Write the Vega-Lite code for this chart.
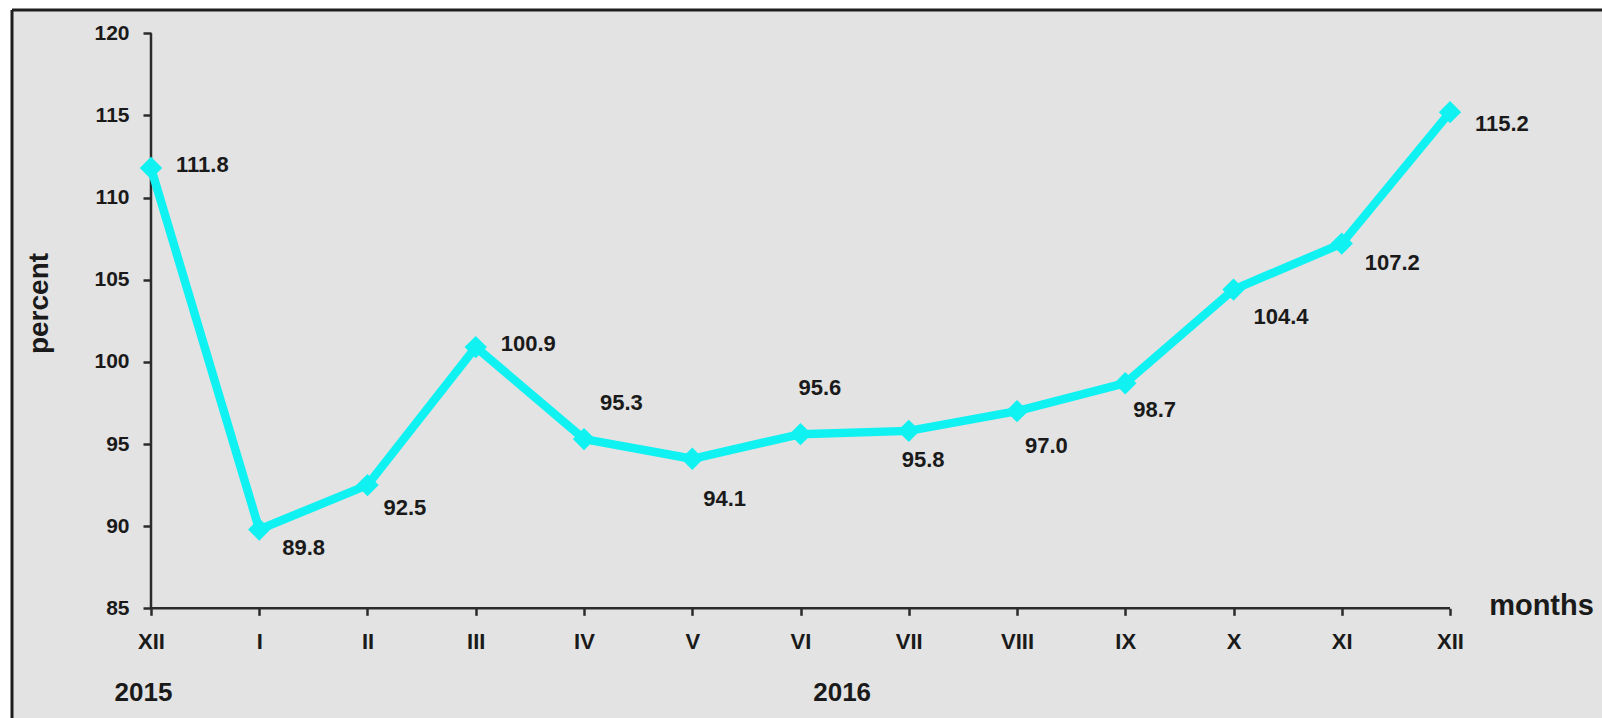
{
  "$schema": "https://vega.github.io/schema/vega-lite/v6.json",
  "autosize": {"type": "none"},
  "width": 1590,
  "height": 708,
  "padding": {"left": 12, "top": 10, "right": 0, "bottom": 0},
  "background": "#ffffff",
  "view": {"fill": "#e3e3e3", "stroke": null},
  "config": {
    "font": "Liberation Sans",
    "axis": {"grid": false, "labelFont": "Liberation Sans", "titleFont": "Liberation Sans"}
  },
  "data": {
    "values": [
      {"idx": 0, "month": "XII", "year": 2015, "value": 111.8},
      {"idx": 1, "month": "I", "year": 2016, "value": 89.8},
      {"idx": 2, "month": "II", "year": 2016, "value": 92.5},
      {"idx": 3, "month": "III", "year": 2016, "value": 100.9},
      {"idx": 4, "month": "IV", "year": 2016, "value": 95.3},
      {"idx": 5, "month": "V", "year": 2016, "value": 94.1},
      {"idx": 6, "month": "VI", "year": 2016, "value": 95.6},
      {"idx": 7, "month": "VII", "year": 2016, "value": 95.8},
      {"idx": 8, "month": "VIII", "year": 2016, "value": 97.0},
      {"idx": 9, "month": "IX", "year": 2016, "value": 98.7},
      {"idx": 10, "month": "X", "year": 2016, "value": 104.4},
      {"idx": 11, "month": "XI", "year": 2016, "value": 107.2},
      {"idx": 12, "month": "XII", "year": 2016, "value": 115.2}
    ]
  },
  "resolve": {"axis": {"x": "independent", "y": "independent"}},
  "layer": [
    {
      "data": {"values": [{}]},
      "mark": {"type": "rule", "color": "#1e1e1e", "strokeWidth": 3},
      "encoding": {
        "x": {"datum": -1.284, "type": "quantitative", "axis": null,
              "scale": {"domain": [-1.284, 13.404], "nice": false, "zero": false}}
      }
    },
    {
      "data": {"values": [{}]},
      "mark": {"type": "rule", "color": "#1e1e1e", "strokeWidth": 3},
      "encoding": {
        "y": {"datum": 121.418, "type": "quantitative", "axis": null,
              "scale": {"domain": [78.323, 121.418], "nice": false, "zero": false}}
      }
    },
    {
      "data": {"values": [{}]},
      "mark": {"type": "rule", "color": "#2b2b2b", "strokeWidth": 2.5},
      "encoding": {
        "x": {"datum": 0, "type": "quantitative", "axis": null},
        "y": {"datum": 85, "type": "quantitative", "axis": null},
        "y2": {"datum": 120}
      }
    },
    {
      "data": {"values": [{}]},
      "mark": {"type": "rule", "color": "#2b2b2b", "strokeWidth": 2.5},
      "encoding": {
        "y": {"datum": 85, "type": "quantitative", "axis": null},
        "x": {"datum": 0, "type": "quantitative",
              "axis": {"orient": "bottom", "offset": -109.7, "values": [-0.074, 6.38],
                       "labelExpr": "datum.value < 1 ? '2015' : '2016'",
                       "ticks": false, "tickSize": 0, "domain": false, "title": null,
                       "labelFontSize": 26, "labelFontWeight": "bold", "labelColor": "#1a1a1a",
                       "labelPadding": 71, "labelFlush": false, "labelBound": false, "labelOverlap": false}},
        "x2": {"datum": 12}
      }
    },
    {
      "mark": {"type": "line", "color": "#10f2f2", "strokeWidth": 8.5, "strokeJoin": "miter"},
      "encoding": {
        "x": {"field": "idx", "type": "quantitative",
              "axis": {"orient": "bottom", "offset": -109.7, "values": [0,1,2,3,4,5,6,7,8,9,10,11,12],
                       "labelExpr": "['XII','I','II','III','IV','V','VI','VII','VIII','IX','X','XI','XII'][datum.value]",
                       "domain": false, "ticks": true, "tickSize": 7, "tickWidth": 2.5, "tickColor": "#2b2b2b",
                       "labelFontSize": 22, "labelFontWeight": "bold", "labelColor": "#1a1a1a",
                       "labelPadding": 16, "labelFlush": false, "labelBound": false, "labelOverlap": false,
                       "title": "months", "titleFontSize": 29, "titleFontWeight": "bold", "titleColor": "#1a1a1a",
                       "titleX": 1529, "titleY": 6, "titleAlign": "center", "titleBaseline": "alphabetic"}},
        "y": {"field": "value", "type": "quantitative",
              "axis": {"orient": "left", "offset": -139, "values": [85,90,95,100,105,110,115,120],
                       "domain": false, "ticks": true, "tickSize": 8, "tickWidth": 2.5, "tickColor": "#2b2b2b",
                       "labelFontSize": 21, "labelFontWeight": "bold", "labelColor": "#1a1a1a",
                       "labelPadding": 14, "labelFlush": false, "labelBound": false, "labelOverlap": false,
                       "title": "percent", "titleFontSize": 28, "titleFontWeight": "bold", "titleColor": "#1a1a1a",
                       "titleAngle": -90, "titleX": -104, "titleY": 293, "titleAlign": "center", "titleBaseline": "alphabetic"}}
      }
    },
    {
      "mark": {"type": "point", "shape": "diamond", "filled": true, "size": 500, "color": "#10f2f2", "opacity": 1},
      "encoding": {
        "x": {"field": "idx", "type": "quantitative", "axis": null},
        "y": {"field": "value", "type": "quantitative", "axis": null}
      }
    },
    {
      "transform": [{"filter": {"field": "idx", "oneOf": [0, 3]}}],
      "mark": {"type": "text", "align": "left", "baseline": "middle", "dx": 25, "dy": -3, "fontSize": 22, "fontWeight": "bold", "color": "#1a1a1a"},
      "encoding": {"x": {"field": "idx", "type": "quantitative", "axis": null}, "y": {"field": "value", "type": "quantitative", "axis": null}, "text": {"field": "value", "type": "quantitative", "format": ".1f"}}
    },
    {
      "transform": [{"filter": {"field": "idx", "oneOf": [12]}}],
      "mark": {"type": "text", "align": "left", "baseline": "middle", "dx": 25, "dy": 12, "fontSize": 22, "fontWeight": "bold", "color": "#1a1a1a"},
      "encoding": {"x": {"field": "idx", "type": "quantitative", "axis": null}, "y": {"field": "value", "type": "quantitative", "axis": null}, "text": {"field": "value", "type": "quantitative", "format": ".1f"}}
    },
    {
      "transform": [{"filter": {"field": "idx", "oneOf": [1, 11]}}],
      "mark": {"type": "text", "align": "left", "baseline": "middle", "dx": 23, "dy": 19, "fontSize": 22, "fontWeight": "bold", "color": "#1a1a1a"},
      "encoding": {"x": {"field": "idx", "type": "quantitative", "axis": null}, "y": {"field": "value", "type": "quantitative", "axis": null}, "text": {"field": "value", "type": "quantitative", "format": ".1f"}}
    },
    {
      "transform": [{"filter": {"field": "idx", "oneOf": [2]}}],
      "mark": {"type": "text", "align": "left", "baseline": "middle", "dx": 16, "dy": 23, "fontSize": 22, "fontWeight": "bold", "color": "#1a1a1a"},
      "encoding": {"x": {"field": "idx", "type": "quantitative", "axis": null}, "y": {"field": "value", "type": "quantitative", "axis": null}, "text": {"field": "value", "type": "quantitative", "format": ".1f"}}
    },
    {
      "transform": [{"filter": {"field": "idx", "oneOf": [10]}}],
      "mark": {"type": "text", "align": "left", "baseline": "middle", "dx": 20, "dy": 27, "fontSize": 22, "fontWeight": "bold", "color": "#1a1a1a"},
      "encoding": {"x": {"field": "idx", "type": "quantitative", "axis": null}, "y": {"field": "value", "type": "quantitative", "axis": null}, "text": {"field": "value", "type": "quantitative", "format": ".1f"}}
    },
    {
      "transform": [{"filter": {"field": "idx", "oneOf": [9]}}],
      "mark": {"type": "text", "align": "left", "baseline": "middle", "dx": 8, "dy": 27, "fontSize": 22, "fontWeight": "bold", "color": "#1a1a1a"},
      "encoding": {"x": {"field": "idx", "type": "quantitative", "axis": null}, "y": {"field": "value", "type": "quantitative", "axis": null}, "text": {"field": "value", "type": "quantitative", "format": ".1f"}}
    },
    {
      "transform": [{"filter": {"field": "idx", "oneOf": [8]}}],
      "mark": {"type": "text", "align": "left", "baseline": "middle", "dx": 8, "dy": 35, "fontSize": 22, "fontWeight": "bold", "color": "#1a1a1a"},
      "encoding": {"x": {"field": "idx", "type": "quantitative", "axis": null}, "y": {"field": "value", "type": "quantitative", "axis": null}, "text": {"field": "value", "type": "quantitative", "format": ".1f"}}
    },
    {
      "transform": [{"filter": {"field": "idx", "oneOf": [7]}}],
      "mark": {"type": "text", "align": "left", "baseline": "middle", "dx": -7, "dy": 29, "fontSize": 22, "fontWeight": "bold", "color": "#1a1a1a"},
      "encoding": {"x": {"field": "idx", "type": "quantitative", "axis": null}, "y": {"field": "value", "type": "quantitative", "axis": null}, "text": {"field": "value", "type": "quantitative", "format": ".1f"}}
    },
    {
      "transform": [{"filter": {"field": "idx", "oneOf": [5]}}],
      "mark": {"type": "text", "align": "left", "baseline": "middle", "dx": 11, "dy": 40, "fontSize": 22, "fontWeight": "bold", "color": "#1a1a1a"},
      "encoding": {"x": {"field": "idx", "type": "quantitative", "axis": null}, "y": {"field": "value", "type": "quantitative", "axis": null}, "text": {"field": "value", "type": "quantitative", "format": ".1f"}}
    },
    {
      "transform": [{"filter": {"field": "idx", "oneOf": [4]}}],
      "mark": {"type": "text", "align": "left", "baseline": "middle", "dx": 16, "dy": -36, "fontSize": 22, "fontWeight": "bold", "color": "#1a1a1a"},
      "encoding": {"x": {"field": "idx", "type": "quantitative", "axis": null}, "y": {"field": "value", "type": "quantitative", "axis": null}, "text": {"field": "value", "type": "quantitative", "format": ".1f"}}
    },
    {
      "transform": [{"filter": {"field": "idx", "oneOf": [6]}}],
      "mark": {"type": "text", "align": "left", "baseline": "middle", "dx": -2, "dy": -46, "fontSize": 22, "fontWeight": "bold", "color": "#1a1a1a"},
      "encoding": {"x": {"field": "idx", "type": "quantitative", "axis": null}, "y": {"field": "value", "type": "quantitative", "axis": null}, "text": {"field": "value", "type": "quantitative", "format": ".1f"}}
    }
  ]
}
